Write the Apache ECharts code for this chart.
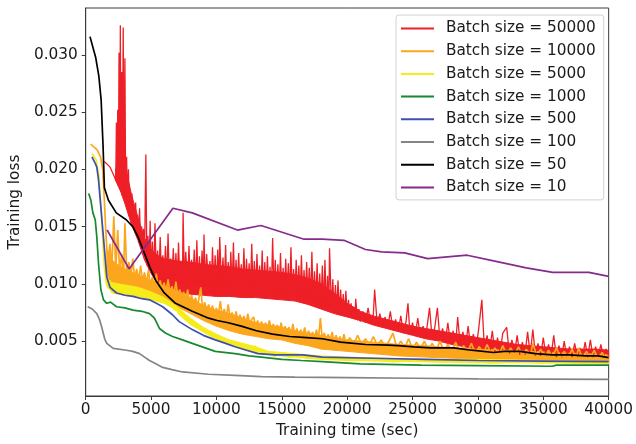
<!DOCTYPE html>
<html>
<head>
<meta charset="utf-8">
<script src="https://cdn.jsdelivr.net/npm/echarts@6/dist/echarts.min.js"></script>
<style>
html, body { margin: 0; padding: 0; background: #fff; }
#loss { width: 636px; height: 444px; }
</style>
</head>
<body>
<div id="loss"></div>
<script>
// training loss vs training time, one curve per batch size
const batchNames = ['Batch size = 50000', 'Batch size = 10000', 'Batch size = 5000', 'Batch size = 1000',
    'Batch size = 500', 'Batch size = 100', 'Batch size = 50', 'Batch size = 10'];
const batchColors = ['#ee1f26', '#fca61e', '#f6ec1a', '#17892f', '#3c4fb4', '#858585', '#000000', '#862a8c'];
const yTicks = [0.005, 0.010, 0.015, 0.020, 0.025, 0.030];

// the noisy curves are dense: the solid part is kept as [time, low, high]
// prettier-ignore
const body50000 = [
    [2300,0.0190,0.0200],[2700,0.0180,0.0220],[3000,0.0170,0.0205],[3500,0.0152,0.0178],[4000,0.0138,0.0158],[4500,0.0121,0.0140],
    [5000,0.0109,0.0130],[5500,0.0100,0.0125],[6000,0.0095,0.0122],[7000,0.0093,0.0120],[8000,0.0091,0.0119],[9000,0.0090,0.0117],
    [10000,0.0089,0.0116],[11000,0.0089,0.0115],[12000,0.0088,0.0113],[13000,0.0088,0.0112],[14000,0.0087,0.0111],[15000,0.0086,0.0110],
    [16000,0.0085,0.0108],[17000,0.0082,0.0105],[18000,0.0078,0.0100],[19000,0.0074,0.0092],[20000,0.0071,0.0083],[21000,0.0068,0.0076],
    [22000,0.0064,0.0072],[23000,0.0061,0.0069],[24000,0.0058,0.0066],[25000,0.0055,0.0063],[26000,0.0052,0.0061],[27000,0.0050,0.0059],
    [28000,0.0047,0.0057],[29000,0.0045,0.0055],[30000,0.0042,0.0053],[31000,0.0040,0.0051],[32000,0.0039,0.0049],[33000,0.0038,0.0047],
    [34000,0.0037,0.0046],[35000,0.0037,0.0045],[36000,0.0036,0.0044],[37000,0.0036,0.0043],[38000,0.0036,0.0043],[39000,0.0036,0.0043],
    [40000,0.0036,0.0042]
];
// prettier-ignore
const body10000 = [
    [1620,0.0108,0.0130],[2000,0.0100,0.0121],[2300,0.0096,0.0118],[3000,0.0094,0.0113],[4000,0.0091,0.0108],[5000,0.0088,0.0103],
    [6000,0.0084,0.0098],[7000,0.0080,0.0094],[8000,0.0074,0.0088],[9000,0.0068,0.0081],[10000,0.0063,0.0077],[11000,0.0059,0.0074],
    [12000,0.0056,0.0070],[13000,0.0054,0.0066],[14000,0.0052,0.0064],[15000,0.0051,0.0062],[16000,0.0048,0.0059],[17000,0.0046,0.0057],
    [18000,0.0043,0.0055],[19000,0.0042,0.0053],[20000,0.0041,0.0051],[22000,0.0039,0.0049],[24000,0.0037,0.0047],[26000,0.0036,0.0046],
    [28000,0.0035,0.0044],[30000,0.0034,0.0043],[32000,0.0034,0.0042],[34000,0.0033,0.0041],[36000,0.0033,0.0040],[38000,0.0032,0.0039],
    [40000,0.0032,0.0038]
];
// prettier-ignore
const body5000 = [
    [1550,0.0100,0.0106],[2000,0.0092,0.0101],[3000,0.0090,0.0099],[4000,0.0088,0.0097],[5000,0.0086,0.0093],[6000,0.0083,0.0088],
    [6500,0.0080,0.0084],[7000,0.0076,0.0080],[7500,0.0071,0.0075],[8000,0.0066,0.0070],[9000,0.0058,0.0062],[10000,0.0052,0.0056],
    [11000,0.0047,0.0051],[12000,0.0043,0.0048],[13000,0.0040,0.0045],[14000,0.0038,0.0041],[16000,0.0036,0.0039],[18000,0.0034,0.0037],
    [20000,0.0033,0.0036],[25000,0.0032,0.0034],[30000,0.0031,0.0034],[35000,0.0031,0.0033],[40000,0.0030,0.0032]
];

// prettier-ignore
const loss50000 = [
    [1410,0.0207],[1600,0.0205],[1860,0.0202],[2100,0.0196],[2250,0.0192],
    [2300,0.0190],[2350,0.0241],[2400,0.0188],[2450,0.0252],[2500,0.0186],[2550,0.0302],[2600,0.0183],[2650,0.0326],[2700,0.0180],[2750,0.0285],
    [2800,0.0177],[2870,0.0324],[2930,0.0173],[3000,0.0297],[3060,0.0170],[3130,0.0211],[3200,0.0165],[3270,0.0200],[3330,0.0160],[3400,0.0179],
    [3470,0.0155],[3540,0.0179],[3600,0.0150],[3680,0.0167],[3750,0.0146],[3820,0.0171],[3900,0.0141],[3970,0.0160],[4050,0.0136],[4120,0.0166],
    [4200,0.0131],[4280,0.0150],[4350,0.0126],[4420,0.0148],[4500,0.0121],[4600,0.0213],[4680,0.0116],[4760,0.0142],[4850,0.0112],[4930,0.0155],
    [5000,0.0110],[5100,0.0137],[5200,0.0108],[5300,0.0153],[5400,0.0106],[5500,0.0129],[5600,0.0105],[5700,0.0141],[5800,0.0104],[5900,0.0125],
    [6000,0.0103],[6100,0.0133],[6200,0.0103],[6300,0.0144],[6400,0.0102],[6500,0.0122],[6600,0.0102],[6700,0.0131],[6800,0.0101],[6900,0.0127],
    [7000,0.0101],[7100,0.0136],[7200,0.0101],[7300,0.0119],[7400,0.0100],[7450,0.0162],[7550,0.0100],[7650,0.0128],[7800,0.0100],[7900,0.0133],
    [8000,0.0099],[8100,0.0121],[8200,0.0099],[8300,0.0130],[8400,0.0099],[8500,0.0138],[8600,0.0099],[8700,0.0124],[8800,0.0098],[8900,0.0129],
    [9000,0.0098],[9050,0.0143],[9150,0.0098],[9250,0.0126],[9400,0.0098],[9500,0.0120],[9600,0.0097],[9700,0.0132],[9800,0.0097],[9900,0.0125],
    [10000,0.0097],[10100,0.0130],[10200,0.0097],[10250,0.0141],[10400,0.0096],[10500,0.0123],[10600,0.0096],[10700,0.0134],[10800,0.0096],[10900,0.0119],
    [11000,0.0096],[11100,0.0128],[11200,0.0095],[11300,0.0136],[11400,0.0095],[11500,0.0121],[11600,0.0095],[11700,0.0127],[11800,0.0095],[11900,0.0117],
    [12000,0.0094],[12100,0.0131],[12200,0.0094],[12300,0.0122],[12400,0.0094],[12500,0.0118],[12600,0.0093],[12700,0.0135],[12800,0.0093],[12900,0.0120],
    [13000,0.0093],[13100,0.0126],[13200,0.0093],[13300,0.0116],[13400,0.0092],[13500,0.0129],[13600,0.0092],[13700,0.0119],[13800,0.0092],[13900,0.0124],
    [14000,0.0092],[14100,0.0115],[14200,0.0091],[14300,0.0140],[14400,0.0091],[14500,0.0121],[14600,0.0091],[14700,0.0117],[14800,0.0091],[14900,0.0127],
    [15000,0.0090],[15100,0.0114],[15200,0.0090],[15300,0.0122],[15400,0.0090],[15500,0.0118],[15600,0.0090],[15700,0.0132],[15800,0.0089],[15900,0.0113],
    [16000,0.0089],[16100,0.0121],[16200,0.0088],[16300,0.0116],[16400,0.0088],[16500,0.0125],[16600,0.0087],[16700,0.0112],[16800,0.0086],[16900,0.0119],
    [17000,0.0086],[17100,0.0114],[17200,0.0085],[17300,0.0128],[17400,0.0084],[17500,0.0111],[17600,0.0083],[17700,0.0118],[17800,0.0082],[17900,0.0109],
    [18000,0.0081],[18100,0.0116],[18200,0.0080],[18300,0.0121],[18400,0.0079],[18500,0.0107],[18600,0.0078],[18650,0.0131],[18800,0.0077],[18900,0.0104],
    [19000,0.0076],[19100,0.0099],[19200,0.0075],[19300,0.0103],[19400,0.0074],[19500,0.0095],[19600,0.0073],[19700,0.0091],[19800,0.0072],[19900,0.0094],
    [20000,0.0072],[20100,0.0086],[20200,0.0071],[20300,0.0083],[20400,0.0070],[20500,0.0080],[20600,0.0069],[20650,0.0087],[20800,0.0068],[20900,0.0078],
    [21000,0.0067],[21200,0.0076],[21400,0.0066],[21600,0.0079],[21800,0.0065],[22000,0.0073],[22100,0.0095],[22300,0.0064],[22500,0.0074],[22700,0.0062],
    [22900,0.0071],[23100,0.0061],[23300,0.0076],[23500,0.0060],[23700,0.0069],[23900,0.0058],[24100,0.0072],[24300,0.0057],[24500,0.0067],[24650,0.0083],
    [24800,0.0056],[25000,0.0066],[25200,0.0055],[25400,0.0070],[25600,0.0054],[25800,0.0063],[26000,0.0053],[26300,0.0079],[26500,0.0052],[26700,0.0062],
    [26900,0.0079],[27100,0.0050],[27300,0.0061],[27500,0.0049],[27700,0.0066],[27900,0.0048],[28100,0.0059],[28300,0.0047],[28450,0.0071],[28650,0.0046],
    [28850,0.0058],[29050,0.0045],[29250,0.0063],[29450,0.0044],[29650,0.0056],[29850,0.0043],[30050,0.0060],[30300,0.0086],[30500,0.0042],[30700,0.0055],
    [30900,0.0041],[31100,0.0059],[31300,0.0040],[31500,0.0053],[31700,0.0040],[31900,0.0057],[32200,0.0062],[32400,0.0039],[32600,0.0051],[32800,0.0039],
    [33000,0.0055],[33200,0.0038],[33400,0.0049],[33600,0.0038],[33800,0.0058],[34000,0.0038],[34200,0.0060],[34400,0.0037],[34600,0.0048],[34800,0.0037],
    [35000,0.0053],[35200,0.0037],[35400,0.0047],[35600,0.0037],[35800,0.0055],[36000,0.0036],[36200,0.0046],[36400,0.0036],[36600,0.0050],[36800,0.0036],
    [37000,0.0045],[37200,0.0036],[37400,0.0048],[37600,0.0036],[37800,0.0044],[38000,0.0036],[38200,0.0049],[38400,0.0036],[38600,0.0051],[38800,0.0036],
    [39000,0.0045],[39200,0.0036],[39400,0.0047],[39600,0.0036],[39800,0.0043],[40000,0.0037]
];
// prettier-ignore
const loss10000 = [
    [380,0.0222],[880,0.0217],[1130,0.0211],[1300,0.0200],[1420,0.0175],[1520,0.0150],[1620,0.0130],
    [1700,0.0118],[1850,0.0135],[2000,0.0114],[2150,0.0159],[2300,0.0112],[2450,0.0147],[2600,0.0110],[2750,0.0126],[2900,0.0108],[3000,0.0153],
    [3150,0.0107],[3300,0.0119],[3450,0.0106],[3600,0.0122],[3750,0.0104],[3900,0.0113],[4050,0.0103],[4200,0.0116],[4350,0.0102],[4500,0.0110],
    [4650,0.0100],[4800,0.0112],[4950,0.0098],[5100,0.0106],[5250,0.0097],[5400,0.0109],[5550,0.0095],[5700,0.0103],[5850,0.0094],[6000,0.0101],
    [6150,0.0093],[6300,0.0104],[6450,0.0092],[6600,0.0098],[6750,0.0090],[6900,0.0102],[7050,0.0089],[7200,0.0095],[7350,0.0087],[7500,0.0093],
    [7650,0.0085],[7800,0.0095],[7950,0.0083],[8100,0.0090],[8250,0.0081],[8400,0.0088],[8550,0.0080],[8800,0.0097],[8950,0.0077],[9100,0.0084],
    [9250,0.0076],[9400,0.0082],[9550,0.0075],[9700,0.0081],[9850,0.0073],[10000,0.0079],[10150,0.0072],[10300,0.0085],[10450,0.0071],[10600,0.0078],
    [10750,0.0070],[10900,0.0082],[11050,0.0069],[11200,0.0075],[11350,0.0068],[11500,0.0076],[11650,0.0067],[11800,0.0073],[11950,0.0066],[12100,0.0072],
    [12250,0.0065],[12400,0.0074],[12550,0.0064],[12700,0.0069],[12850,0.0071],[13000,0.0062],[13150,0.0068],[13300,0.0061],[13450,0.0067],[13600,0.0061],
    [13750,0.0066],[13900,0.0060],[14050,0.0068],[14200,0.0059],[14350,0.0065],[14500,0.0059],[14650,0.0064],[14800,0.0058],[14950,0.0066],[15100,0.0057],
    [15250,0.0063],[15400,0.0057],[15550,0.0062],[15700,0.0056],[15850,0.0065],[16000,0.0055],[16150,0.0061],[16300,0.0054],[16450,0.0060],[16600,0.0054],
    [16750,0.0062],[16900,0.0053],[17050,0.0059],[17200,0.0052],[17350,0.0058],[17500,0.0052],[17650,0.0060],[17800,0.0051],[17950,0.0070],[18100,0.0051],
    [18250,0.0057],[18400,0.0050],[18550,0.0056],[18700,0.0050],[18850,0.0058],[19000,0.0049],[19150,0.0055],[19300,0.0049],[19450,0.0054],[19600,0.0048],
    [19750,0.0056],[19900,0.0048],[20200,0.0053],[20500,0.0047],[20800,0.0055],[21100,0.0047],[21400,0.0052],[21700,0.0046],[22000,0.0054],[22300,0.0046],
    [22600,0.0051],[22900,0.0045],[23200,0.0050],[23500,0.0057],[23800,0.0044],[24100,0.0050],[24400,0.0044],[24700,0.0052],[25000,0.0043],[25300,0.0049],
    [25600,0.0043],[25900,0.0050],[26200,0.0042],[26500,0.0048],[26800,0.0042],[27100,0.0050],[27400,0.0041],[27700,0.0047],[28000,0.0041],[28300,0.0049],
    [28600,0.0040],[28900,0.0046],[29200,0.0040],[29500,0.0048],[29800,0.0039],[30100,0.0045],[30400,0.0039],[30700,0.0047],[31000,0.0039],[31300,0.0044],
    [31600,0.0038],[31900,0.0046],[32200,0.0038],[32500,0.0044],[32800,0.0038],[33100,0.0045],[33400,0.0037],[33700,0.0043],[34000,0.0037],[34200,0.0048],
    [34500,0.0037],[34800,0.0043],[35100,0.0036],[35400,0.0042],[35700,0.0036],[36000,0.0044],[36300,0.0036],[36600,0.0041],[36900,0.0035],[37200,0.0043],
    [37500,0.0035],[37700,0.0044],[38000,0.0035],[38300,0.0041],[38600,0.0035],[38900,0.0042],[39200,0.0034],[39500,0.0040],[39800,0.0034],[40000,0.0037]
];
// prettier-ignore
const loss5000 = [
    [500,0.0214],[800,0.0208],[1000,0.0195],[1150,0.0170],[1300,0.0140],[1420,0.0115],[1550,0.0104],
    [1700,0.0096],[1850,0.0103],[2000,0.0094],[2150,0.0101],[2300,0.0092],[2450,0.0100],[2600,0.0091],[2750,0.0099],[2900,0.0090],[3050,0.0098],
    [3200,0.0089],[3350,0.0097],[3500,0.0089],[3650,0.0096],[3800,0.0088],[3950,0.0095],[4100,0.0088],[4250,0.0094],[4400,0.0087],[4550,0.0093],
    [4700,0.0087],[4850,0.0092],[5000,0.0086],[5150,0.0091],[5300,0.0086],[5450,0.0090],[5600,0.0085],[5750,0.0089],[5900,0.0084],[6050,0.0087],
    [6200,0.0082],[6350,0.0085],[6500,0.0080],[6650,0.0082],[6800,0.0077],[6950,0.0079],[7100,0.0074],[7250,0.0075],[7400,0.0071],[7550,0.0072],
    [7700,0.0068],[7850,0.0068],[8000,0.0065],[8150,0.0066],[8300,0.0063],[8450,0.0064],[8600,0.0061],[8750,0.0062],[8900,0.0059],[9050,0.0060],
    [9200,0.0057],[9350,0.0058],[9500,0.0055],[9650,0.0056],[9800,0.0053],[9950,0.0055],[10100,0.0052],[10250,0.0053],[10400,0.0050],[10550,0.0052],
    [10700,0.0048],[10850,0.0050],[11000,0.0047],[11150,0.0049],[11300,0.0046],[11450,0.0048],[11600,0.0045],[11750,0.0047],[11900,0.0044],[12050,0.0047],
    [12200,0.0043],[12350,0.0046],[12500,0.0042],[12650,0.0045],[12800,0.0041],[12950,0.0046],[13100,0.0040],[13250,0.0043],[13400,0.0039],
    [14000,0.0039],[14400,0.0037],[15000,0.0038],[15600,0.0036],[16200,0.0037],[17000,0.0035],[17600,0.0036],[18500,0.0034],[19500,0.0035],[20500,0.0033],
    [22000,0.0034],[23500,0.0032],[25000,0.0033],[27000,0.0032],[29000,0.0033],[31000,0.0031],[33000,0.0032],[35000,0.0031],[37000,0.0032],[39000,0.0031],
    [40000,0.0031]
];
// prettier-ignore
const loss1000 = [
    [230,0.0179],[400,0.0173],[550,0.0162],[730,0.0156],[850,0.0141],[980,0.0118],[1160,0.0095],[1360,0.0086],[1610,0.0083],[1900,0.0084],
    [2360,0.0080],[3000,0.0079],[3620,0.0077],[4300,0.0076],[4880,0.0074],[5260,0.0070],[5640,0.0061],[6100,0.0057],[6640,0.0054],[7400,0.0051],
    [8150,0.0048],[9410,0.0043],[9910,0.0041],[11420,0.0039],[12500,0.0037],[13430,0.0036],[15000,0.0034],[16500,0.0033],[18100,0.0032],[21000,0.0030],
    [25660,0.0029],[30000,0.00285],[35700,0.0028],[36000,0.0029],[40000,0.0029]
];
// prettier-ignore
const loss500 = [
    [480,0.0211],[700,0.0206],[850,0.0202],[980,0.0191],[1160,0.0167],[1310,0.0147],[1480,0.0124],[1610,0.0106],[1860,0.0097],[2360,0.0092],
    [3000,0.0090],[3620,0.0089],[4300,0.0087],[4880,0.0086],[5400,0.0083],[5890,0.0080],[6640,0.0073],[7150,0.0067],[8150,0.0060],[9000,0.0055],
    [9910,0.0051],[10700,0.0048],[11420,0.0045],[12300,0.0042],[13180,0.0039],[14500,0.0038],[16600,0.0038],[18100,0.0036],[22000,0.0035],[26000,0.0034],
    [30000,0.0033],[35000,0.00325],[40000,0.0032]
];
// prettier-ignore
const loss100 = [
    [150,0.0080],[500,0.0078],[850,0.0074],[1050,0.0069],[1230,0.0062],[1450,0.0052],[1610,0.0048],[2110,0.00436],[3120,0.0042],[3600,0.0041],
    [4120,0.0039],[4500,0.0036],[4880,0.0033],[5400,0.0030],[5890,0.0027],[6600,0.0025],[7400,0.0023],[9400,0.0021],[11420,0.0020],[13430,0.0019],
    [16000,0.00185],[20000,0.0018],[25000,0.00175],[30000,0.0017],[35000,0.00168],[40000,0.00165]
];
// prettier-ignore
const loss50 = [
    [330,0.0316],[760,0.0298],[1000,0.0282],[1180,0.0261],[1330,0.0220],[1430,0.0184],[1740,0.0173],[2340,0.0162],[3100,0.0156],[3600,0.0150],
    [4000,0.0141],[4380,0.0130],[4880,0.0115],[5360,0.0103],[6010,0.0092],[6870,0.0083],[8150,0.0076],[9400,0.0070],[10050,0.0068],[10900,0.0066],
    [11900,0.0063],[13060,0.0059],[14300,0.0056],[15600,0.0054],[16900,0.0053],[18100,0.0052],[19500,0.0049],[21400,0.0047],[23150,0.00465],[23900,0.0046],
    [25100,0.0045],[26400,0.0044],[28150,0.0044],[29500,0.0042],[31200,0.0040],[32000,0.0041],[33200,0.0041],[34400,0.0039],[35700,0.0038],[37000,0.0038],
    [38250,0.0037],[39200,0.0037],[40000,0.00355]
];
// prettier-ignore
const loss10 = [
    [1640,0.0147],[3320,0.0113],[6670,0.0166],[8150,0.0162],[11600,0.0147],[13400,0.0151],[16700,0.0139],[18100,0.0139],[19750,0.0138],[21400,0.0130],
    [22640,0.0128],[24400,0.0127],[26160,0.0122],[29180,0.0125],[31200,0.0120],[33700,0.0114],[35720,0.0110],[38490,0.0110],[40000,0.01065]
];

const allLoss = [loss50000, loss10000, loss5000, loss1000, loss500, loss100, loss50, loss10];
const allBody = [body50000, body10000, body5000];

var chart = echarts.init(document.getElementById('loss'));
var font = 'DejaVu Sans';
var ink = '#1a1a1a';
var spine = '#3a3a3a';

// solid part of a noisy curve, drawn as one polygon through the axes
function bodySeries(i) {
    var rows = allBody[i];
    return {
        name: 'body' + i,
        type: 'custom',
        silent: true,
        data: rows,
        encode: { x: 0, y: [1, 2] },
        renderItem: function (params, api) {
            if (params.dataIndex !== 0) return;
            var pts = [];
            rows.forEach(function (r) { pts.push(api.coord([r[0], r[1]])); });
            for (var k = rows.length - 1; k >= 0; k--) {
                pts.push(api.coord([rows[k][0], rows[k][2]]));
            }
            return {
                type: 'polygon',
                shape: { points: pts },
                style: { fill: batchColors[i], stroke: batchColors[i], lineWidth: 1 }
            };
        }
    };
}

var series = [];
batchNames.forEach(function (name, i) {
    if (allBody[i]) {
        series.push(bodySeries(i));
    }
    series.push({
        name: name,
        type: 'line',
        data: allLoss[i],
        showSymbol: false,
        symbol: 'none',
        silent: true,
        itemStyle: { color: batchColors[i] },
        lineStyle: { width: i === 0 ? 1.3 : 1.7, color: batchColors[i] }
    });
});

option = {
    animation: false,
    backgroundColor: '#fff',
    textStyle: { fontFamily: font },
    grid: {
        left: 80, right: 26, top: 8, bottom: 47,
        show: true,
        borderColor: spine,
        borderWidth: 1
    },
    legend: {
        orient: 'vertical',
        left: 396,
        top: 15,
        padding: [5, 8, 4, 5],
        itemGap: 5.7,
        itemWidth: 33,
        itemHeight: 2,
        icon: 'rect',
        backgroundColor: 'rgba(255,255,255,0.85)',
        borderColor: '#d2d2d2',
        borderWidth: 1,
        borderRadius: 3,
        textStyle: {
            fontFamily: font,
            fontSize: 15.3,
            color: ink,
            lineHeight: 17,
            padding: [0, 0, 0, 7]
        },
        data: batchNames
    },
    xAxis: {
        type: 'value',
        min: 0,
        max: 40000,
        interval: 5000,
        name: 'Training time (sec)',
        nameLocation: 'middle',
        nameGap: 28,
        nameTextStyle: { fontFamily: font, fontSize: 15.3, color: ink },
        splitLine: { show: false },
        axisLine: { lineStyle: { color: spine } },
        axisTick: { length: 4, lineStyle: { color: spine } },
        axisLabel: {
            fontFamily: font, fontSize: 15.3, color: ink, margin: 7,
            formatter: function (v) { return String(v); }
        }
    },
    yAxis: {
        type: 'value',
        min: 0.0002,
        max: 0.0341,
        name: 'Training loss',
        nameLocation: 'middle',
        nameGap: 57,
        nameTextStyle: { fontFamily: font, fontSize: 15.3, color: ink },
        splitLine: { show: false },
        axisLine: { show: true, lineStyle: { color: spine } },
        axisTick: { show: true, length: 4, customValues: yTicks, lineStyle: { color: spine } },
        axisLabel: {
            fontFamily: font, fontSize: 15.3, color: ink, margin: 8,
            customValues: yTicks,
            formatter: function (v) { return v.toFixed(3); }
        }
    },
    series: series
};
chart.setOption(option, true);
</script>
</body>
</html>
